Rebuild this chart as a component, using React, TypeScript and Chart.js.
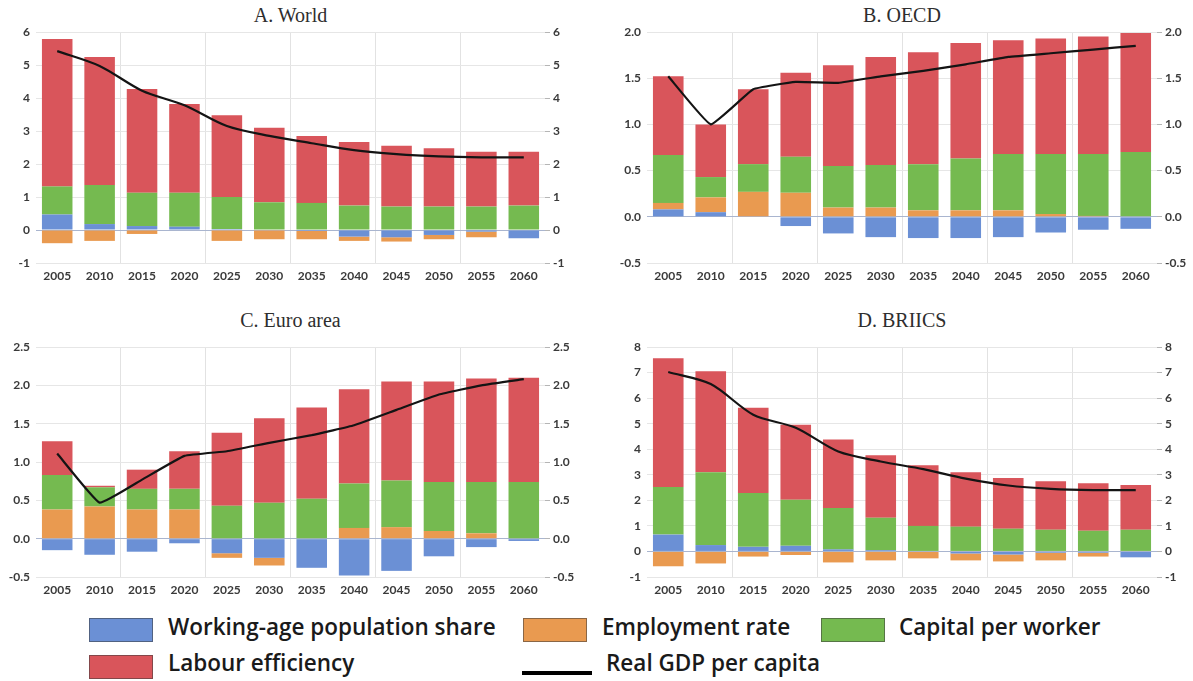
import React, { useEffect, useRef } from 'react';
import { Chart, registerables } from 'chart.js';

Chart.register(...registerables);

// ---------------- Data ----------------
const years = ['2005', '2010', '2015', '2020', '2025', '2030', '2035', '2040', '2045', '2050', '2055', '2060'];

// A. World
const worldWorkingAge = [0.47, 0.18, 0.12, 0.1, 0.03, 0, -0.03, -0.2, -0.22, -0.15, -0.05, -0.25];
const worldEmployment = [-0.4, -0.33, -0.12, 0, -0.33, -0.28, -0.25, -0.13, -0.13, -0.13, -0.17, 0];
const worldCapital = [0.85, 1.18, 1.01, 1.03, 0.97, 0.84, 0.82, 0.74, 0.71, 0.71, 0.71, 0.74];
const worldLabour = [4.47, 3.88, 3.14, 2.69, 2.48, 2.26, 2.03, 1.93, 1.84, 1.77, 1.66, 1.63];
const worldGdp = [5.42, 4.97, 4.22, 3.78, 3.15, 2.85, 2.63, 2.42, 2.3, 2.23, 2.2, 2.2];

// B. OECD
const oecdWorkingAge = [0.08, 0.05, 0, -0.1, -0.18, -0.22, -0.23, -0.23, -0.22, -0.17, -0.14, -0.13];
const oecdEmployment = [0.07, 0.16, 0.27, 0.26, 0.1, 0.1, 0.07, 0.07, 0.07, 0.03, 0.01, 0];
const oecdCapital = [0.52, 0.22, 0.3, 0.39, 0.45, 0.46, 0.5, 0.56, 0.61, 0.65, 0.67, 0.7];
const oecdLabour = [0.85, 0.57, 0.81, 0.91, 1.09, 1.17, 1.21, 1.25, 1.23, 1.25, 1.27, 1.29];
const oecdGdp = [1.52, 1.0, 1.38, 1.46, 1.45, 1.52, 1.58, 1.65, 1.73, 1.77, 1.81, 1.85];

// C. Euro area
const euroWorkingAge = [-0.15, -0.21, -0.17, -0.06, -0.19, -0.25, -0.38, -0.48, -0.42, -0.23, -0.11, -0.03];
const euroEmployment = [0.38, 0.42, 0.38, 0.38, -0.06, -0.1, 0, 0.14, 0.15, 0.1, 0.07, 0];
const euroCapital = [0.45, 0.25, 0.27, 0.27, 0.43, 0.47, 0.52, 0.58, 0.61, 0.64, 0.67, 0.74];
const euroLabour = [0.44, 0.02, 0.25, 0.49, 0.95, 1.1, 1.19, 1.23, 1.29, 1.31, 1.35, 1.36];
const euroGdp = [1.11, 0.47, 0.77, 1.08, 1.14, 1.25, 1.35, 1.48, 1.68, 1.88, 2.0, 2.08];

// D. BRIICS
const briicsWorkingAge = [0.66, 0.25, 0.18, 0.22, 0.08, 0.05, 0, -0.08, -0.12, -0.05, -0.05, -0.23];
const briicsEmployment = [-0.58, -0.47, -0.2, -0.14, -0.43, -0.35, -0.27, -0.27, -0.27, -0.3, -0.15, 0];
const briicsCapital = [1.86, 2.85, 2.11, 1.8, 1.62, 1.27, 1.0, 0.97, 0.89, 0.85, 0.81, 0.85];
const briicsLabour = [5.04, 3.95, 3.33, 2.94, 2.68, 2.44, 2.37, 2.13, 1.98, 1.9, 1.86, 1.75];
const briicsGdp = [7.02, 6.55, 5.35, 4.84, 3.91, 3.52, 3.22, 2.85, 2.58, 2.45, 2.4, 2.4];

const seriesNames = ['Working-age population share', 'Employment rate', 'Capital per worker', 'Labour efficiency', 'Real GDP per capita'];

// ---------------- Styles ----------------
const COL_BLUE = '#6b90d5';
const COL_ORANGE = '#e99a50';
const COL_GREEN = '#75ba50';
const COL_RED = '#d9555b';
const COL_LINE = '#141414';
const TICK_FONT = { family: 'Lato, "Open Sans", sans-serif', size: 12, weight: 'bold' as const };
const TICK_COLOR = '#3a3a3a';

type PanelProps = {
  title: string;
  left: number;
  top: number;
  width: number;
  height: number;
  padTop: number;
  xHeight: number;
  leftW: number;
  rightW: number;
  min: number;
  max: number;
  step: number;
  decimals: number;
  tension: number;
  workingAge: number[];
  employment: number[];
  capital: number[];
  labour: number[];
  gdp: number[];
};

function Panel(p: PanelProps) {
  const ref = useRef<HTMLCanvasElement | null>(null);
  useEffect(() => {
    if (!ref.current) return;
    const fmt = (v: any) => Number(v).toFixed(p.decimals);
    const chart = new Chart(ref.current, {
      type: 'bar',
      data: {
        labels: years,
        datasets: [
          { type: 'bar', label: seriesNames[0], data: p.workingAge, backgroundColor: COL_BLUE, stack: 's', order: 1, yAxisID: 'y' },
          { type: 'bar', label: seriesNames[1], data: p.employment, backgroundColor: COL_ORANGE, stack: 's', order: 1, yAxisID: 'y' },
          { type: 'bar', label: seriesNames[2], data: p.capital, backgroundColor: COL_GREEN, stack: 's', order: 1, yAxisID: 'y' },
          { type: 'bar', label: seriesNames[3], data: p.labour, backgroundColor: COL_RED, stack: 's', order: 1, yAxisID: 'y' },
          {
            type: 'line',
            label: seriesNames[4],
            data: p.gdp,
            borderColor: COL_LINE,
            borderWidth: 2.2,
            pointRadius: 0,
            tension: p.tension,
            order: 0,
            yAxisID: 'y2',
          } as any,
        ],
      },
      options: {
        responsive: false,
        animation: false,
        layout: { padding: { top: p.padTop, left: 0, right: 0, bottom: 0 } },
        plugins: {
          legend: { display: false },
          tooltip: { enabled: false },
          title: { display: false },
        },
        scales: {
          x: {
            stacked: true,
            offset: true,
            border: { display: false },
            grid: {
              offset: true,
              drawTicks: false,
              lineWidth: 1,
              color: (ctx: any) => (ctx.index % 2 === 0 && ctx.index > 0 && ctx.index < years.length ? '#e2e2e2' : 'rgba(0,0,0,0)'),
            },
            ticks: { font: TICK_FONT, color: TICK_COLOR, padding: 6, maxRotation: 0, autoSkip: false },
            afterFit: (a: any) => {
              a.height = p.xHeight;
            },
          },
          y: {
            position: 'left',
            stacked: true,
            min: p.min,
            max: p.max,
            border: { display: false },
            grid: {
              drawTicks: false,
              color: (ctx: any) => (ctx.tick && Math.abs(ctx.tick.value) < 1e-9 ? '#a9b5cf' : '#e6e6e6'),
            },
            ticks: { stepSize: p.step, font: TICK_FONT, color: TICK_COLOR, padding: 6, callback: fmt },
            afterFit: (a: any) => {
              a.width = p.leftW;
            },
          },
          y2: {
            position: 'right',
            stacked: false,
            min: p.min,
            max: p.max,
            border: { display: false },
            grid: { drawOnChartArea: false, drawTicks: true, tickLength: 5, color: '#b5b5b5' },
            ticks: { stepSize: p.step, font: TICK_FONT, color: TICK_COLOR, padding: 3, callback: fmt },
            afterFit: (a: any) => {
              a.width = p.rightW;
            },
          },
        },
      } as any,
    });
    return () => chart.destroy();
  }, []);

  const plotLeft = p.left + p.leftW;
  const plotRight = p.left + p.width - p.rightW;
  const center = (plotLeft + plotRight) / 2;

  return (
    <>
      <div
        style={{
          position: 'absolute',
          left: center - 150,
          width: 300,
          top: p.top === 0 ? 3 : p.top + 8,
          textAlign: 'center',
          fontFamily: '"Liberation Serif", "DejaVu Serif", serif',
          fontSize: 20,
          lineHeight: '24px',
          color: '#2e2e2e',
        }}
      >
        {p.title}
      </div>
      <canvas
        ref={ref}
        width={p.width}
        height={p.height}
        style={{ position: 'absolute', left: p.left, top: p.top, width: p.width, height: p.height }}
      />
    </>
  );
}

const legendText: React.CSSProperties = {
  position: 'absolute',
  fontFamily: '"Open Sans", Lato, sans-serif',
  fontWeight: 600,
  fontSize: 22.5,
  lineHeight: '26px',
  color: '#1a1a1a',
  whiteSpace: 'nowrap',
};

function box(left: number, top: number, color: string): React.CSSProperties {
  return {
    position: 'absolute',
    left,
    top,
    width: 64,
    height: 24,
    background: color,
    border: '1px solid rgba(60,60,60,0.55)',
    boxSizing: 'border-box',
  };
}

export default function App() {
  return (
    <div style={{ position: 'absolute', left: 0, top: 0, width: 1193, height: 681, background: '#fff', overflow: 'hidden' }}>
      <Panel
        title="A. World"
        left={0}
        top={0}
        width={596}
        height={290}
        padTop={32}
        xHeight={27}
        leftW={36}
        rightW={51}
        min={-1}
        max={6}
        step={1}
        decimals={0}
        tension={0.3}
        workingAge={worldWorkingAge}
        employment={worldEmployment}
        capital={worldCapital}
        labour={worldLabour}
        gdp={worldGdp}
      />
      <Panel
        title="B. OECD"
        left={596}
        top={0}
        width={597}
        height={290}
        padTop={32}
        xHeight={27}
        leftW={51}
        rightW={36}
        min={-0.5}
        max={2}
        step={0.5}
        decimals={1}
        tension={0.1}
        workingAge={oecdWorkingAge}
        employment={oecdEmployment}
        capital={oecdCapital}
        labour={oecdLabour}
        gdp={oecdGdp}
      />
      <Panel
        title="C. Euro area"
        left={0}
        top={300}
        width={596}
        height={300}
        padTop={47}
        xHeight={23}
        leftW={36}
        rightW={51}
        min={-0.5}
        max={2.5}
        step={0.5}
        decimals={1}
        tension={0.1}
        workingAge={euroWorkingAge}
        employment={euroEmployment}
        capital={euroCapital}
        labour={euroLabour}
        gdp={euroGdp}
      />
      <Panel
        title="D. BRIICS"
        left={596}
        top={300}
        width={597}
        height={300}
        padTop={47}
        xHeight={23}
        leftW={51}
        rightW={36}
        min={-1}
        max={8}
        step={1}
        decimals={0}
        tension={0.3}
        workingAge={briicsWorkingAge}
        employment={briicsEmployment}
        capital={briicsCapital}
        labour={briicsLabour}
        gdp={briicsGdp}
      />

      {/* Legend */}
      <div style={box(89, 618, COL_BLUE)} />
      <div style={{ ...legendText, left: 168, top: 614 }}>{seriesNames[0]}</div>
      <div style={box(523, 618, COL_ORANGE)} />
      <div style={{ ...legendText, left: 602, top: 614 }}>{seriesNames[1]}</div>
      <div style={box(821, 618, COL_GREEN)} />
      <div style={{ ...legendText, left: 899, top: 614 }}>{seriesNames[2]}</div>
      <div style={box(89, 655, COL_RED)} />
      <div style={{ ...legendText, left: 168, top: 650 }}>{seriesNames[3]}</div>
      <div style={{ position: 'absolute', left: 522, top: 671, width: 70, height: 4, background: '#000' }} />
      <div style={{ ...legendText, left: 606, top: 650 }}>{seriesNames[4]}</div>
    </div>
  );
}
